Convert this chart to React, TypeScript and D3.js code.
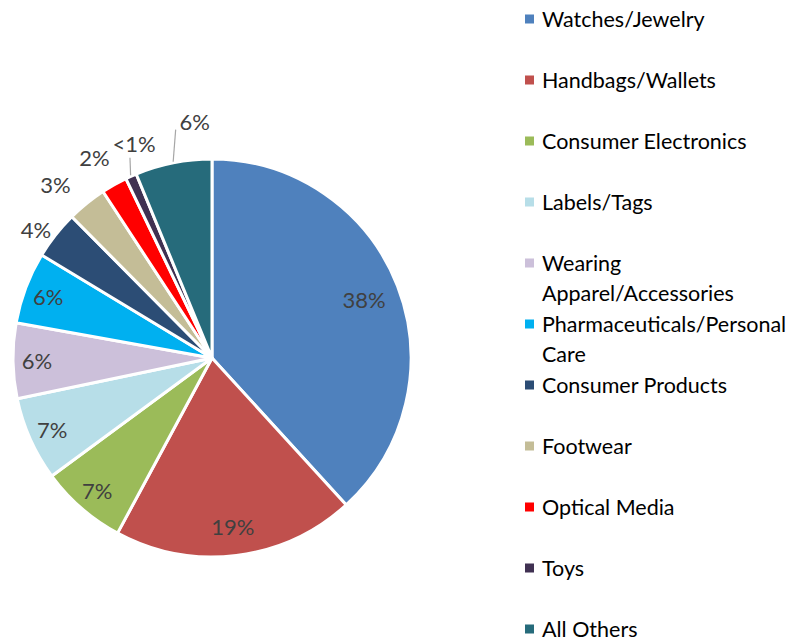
import React from 'react';
import * as d3 from 'd3';

const categories = [
  'Watches/Jewelry', 'Handbags/Wallets', 'Consumer Electronics', 'Labels/Tags',
  'Wearing Apparel/Accessories', 'Pharmaceuticals/Personal Care', 'Consumer Products',
  'Footwear', 'Optical Media', 'Toys', 'All Others',
];
const values = [38.1, 19.6, 7.0, 6.8, 6.1, 5.8, 3.9, 3.2, 2.1, 0.9, 6.2];
const valueLabels = ['38%', '19%', '7%', '7%', '6%', '6%', '4%', '3%', '2%', '<1%', '6%'];
const colors = [
  '#4F81BD', '#C0504D', '#9BBB59', '#B7DEE8', '#CCC0DA', '#00B0F0',
  '#2C4D75', '#C4BD97', '#FF0000', '#403152', '#266B7B',
];
const legendLines = [
  ['Watches/Jewelry'], ['Handbags/Wallets'], ['Consumer Electronics'], ['Labels/Tags'],
  ['Wearing', 'Apparel/Accessories'], ['Pharmaceuticals/Personal', 'Care'],
  ['Consumer Products'], ['Footwear'], ['Optical Media'], ['Toys'], ['All Others'],
];

const W = 798, H = 639;
const CX = 212, CY = 358, R = 199;
const FONT = 'Lato, "Open Sans", sans-serif';

// label placement rules (layout, not data)
const outsideFrom = 6;
const angleNudge: Record<number, number> = { 6: -2, 7: -3, 8: -1, 9: 4, 10: 7 };
const outsideR: Record<number, number> = { 6: 218, 7: 234, 8: 232, 9: 228, 10: 237 };

export default function App() {
  const pie = d3.pie<number>().sort(null).value(d => d);
  const arcs = pie(values);
  const arc = d3.arc<d3.PieArcDatum<number>>().innerRadius(0).outerRadius(R);
  const pt = (ang: number, r: number) => [Math.sin(ang) * r, -Math.cos(ang) * r];

  return (
    <svg width={W} height={H} style={{ position: 'absolute', left: 0, top: 0, background: '#fff' }}>
      <g transform={`translate(${CX},${CY})`}>
        {arcs.map((a, i) => (
          <path key={i} d={arc(a) || ''} fill={colors[i]} stroke="#fff" strokeWidth={3} strokeLinejoin="round" />
        ))}
        {arcs.map((a, i) => {
          const mid = (a.startAngle + a.endAngle) / 2;
          let x: number, y: number;
          if (i < outsideFrom) {
            const r = values[i] > 15 ? (i === 0 ? 163 : 170) : 175;
            [x, y] = pt(mid, r);
          } else {
            const ang = mid + ((angleNudge[i] || 0) * Math.PI) / 180;
            [x, y] = pt(ang, outsideR[i]);
          }
          let leader = null;
          if (i === 9 || i === 10) {
            const [sx, sy] = pt(mid, R + 1);
            const ex = i === 9 ? x - 4 : x - 19;
            const ey = i === 9 ? y + 14 : y + 8;
            leader = <line x1={sx} y1={sy} x2={ex} y2={ey} stroke="#A6A6A6" strokeWidth={1.2} />;
          }
          return (
            <g key={i}>
              {leader}
              <text x={x} y={y} textAnchor="middle" dominantBaseline="central"
                fontFamily={FONT} fontSize={22} fill="#404040">{valueLabels[i]}</text>
            </g>
          );
        })}
      </g>
      <g>
        {categories.map((c, i) => {
          const y = 19 + i * 61;
          return (
            <g key={c}>
              <rect x={525} y={y - 4.5} width={9} height={9} fill={colors[i]} />
              {legendLines[i].map((ln, j) => (
                <text key={j} x={542} y={y + j * 30} dominantBaseline="central"
                  fontFamily={FONT} fontSize={21.5} fill="#000">{ln}</text>
              ))}
            </g>
          );
        })}
      </g>
    </svg>
  );
}
